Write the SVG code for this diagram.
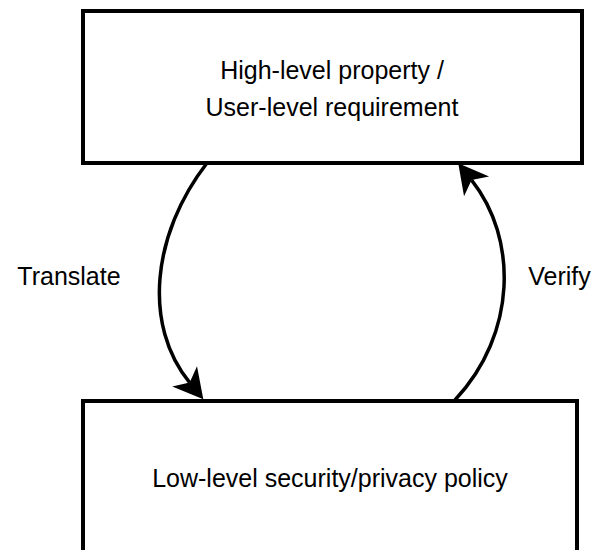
<svg xmlns="http://www.w3.org/2000/svg" width="605" height="550" viewBox="0 0 605 550">
<style>
.box{fill:#fff;stroke:#000;stroke-width:4}
.lbl{font-family:"Liberation Sans",Arial,Helvetica,sans-serif;font-size:25px;fill:#000;text-anchor:middle}
.edge{fill:none;stroke:#000;stroke-width:3.5}
</style>
<defs>
<marker id="arr" markerUnits="userSpaceOnUse" viewBox="0 0 30 32" refX="8" refY="16" markerWidth="30" markerHeight="32" orient="auto" overflow="visible">
<path d="M8,16 L0,0 L29.5,16 L0,32 Z" fill="#000"/>
</marker>
</defs>
<rect width="605" height="550" fill="#fff"/>
<g id="connectors">
<path class="edge" d="M207,163 C152,234 142.5,325 189.7,382.6" marker-end="url(#arr)"/>
<path class="edge" d="M455,400 C517,334 518,238.6 471.6,180.1" marker-end="url(#arr)"/>
<text class="lbl" x="69" y="285">Translate</text>
<text class="lbl" x="559.5" y="285">Verify</text>
</g>
<g id="high">
<rect class="box" x="83" y="11" width="499" height="152"/>
<text class="lbl" x="332" y="79">High-level property /</text>
<text class="lbl" x="332" y="116">User-level requirement</text>
</g>
<g id="low">
<rect class="box" x="83" y="401" width="494" height="200"/>
<text class="lbl" x="330" y="487">Low-level security/privacy policy</text>
</g>
</svg>
